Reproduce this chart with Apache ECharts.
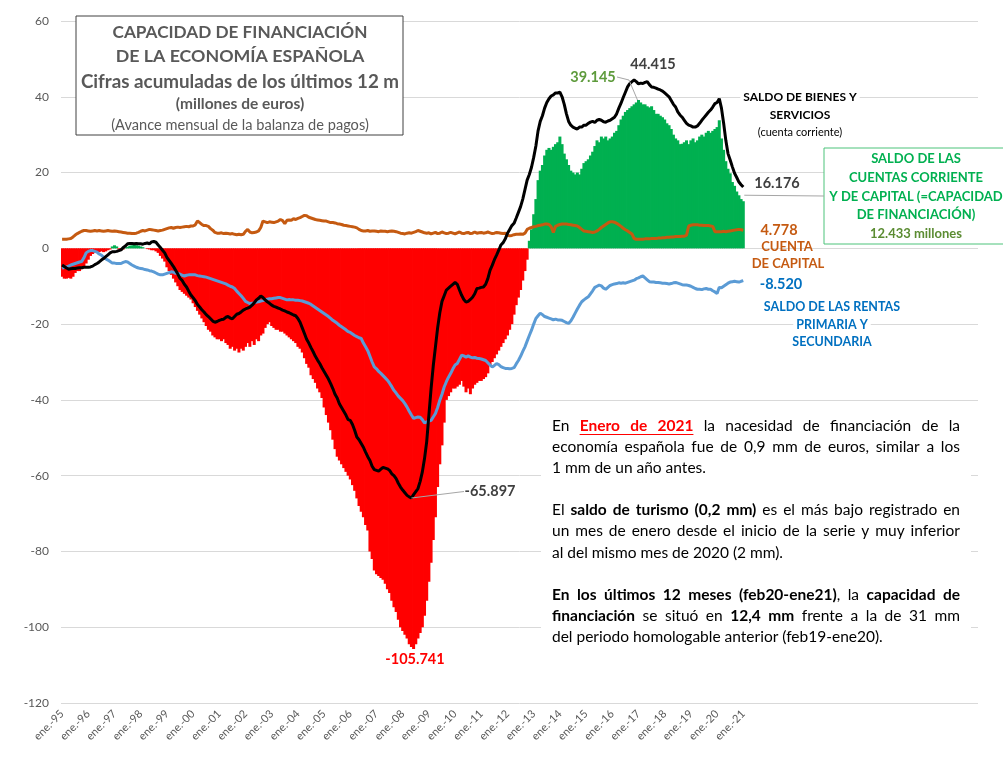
<!DOCTYPE html>
<html>
<head>
<meta charset="utf-8">
<script src="https://cdn.jsdelivr.net/npm/echarts@6/dist/echarts.min.js"></script>
<style>
  html, body { margin: 0; padding: 0; background: #fff; }
  #chart { width: 1003px; height: 770px; }
</style>
</head>
<body>
<div id="chart"></div>
<script>
const FONT = 'Lato, "Noto Sans", sans-serif';

const meses = ['ene.', 'feb.', 'mar.', 'abr.', 'may.', 'jun.', 'jul.', 'ago.', 'sep.', 'oct.', 'nov.', 'dic.'];
const tickLabels = ['ene.-95', 'ene.-96', 'ene.-97', 'ene.-98', 'ene.-99', 'ene.-00', 'ene.-01', 'ene.-02', 'ene.-03',
  'ene.-04', 'ene.-05', 'ene.-06', 'ene.-07', 'ene.-08', 'ene.-09', 'ene.-10', 'ene.-11', 'ene.-12', 'ene.-13',
  'ene.-14', 'ene.-15', 'ene.-16', 'ene.-17', 'ene.-18', 'ene.-19', 'ene.-20', 'ene.-21'];

// miles de millones de euros, acumulado 12 meses (ene-95 ... ene-21)
const capFinanciacion = [
  -7.5, -8, -8, -7.8, -8, -7.5, -6.5, -6, -6, -5.5, -5, -4,
  -3, -2, -1.5, -1.2, -1, -1, -0.8, -1, -0.8, -0.5, -0.3, 0.5,
  0.8, 0.5, -0.3, -0.5, -0.3, 0.2, 0.4, 0.7, 0.8, 0.9, 0.8, 0.7,
  0.5, 0.3, 0, -0.2, -0.3, -0.5, -0.5, -0.8, -1.2, -2, -2.7, -3.5,
  -5, -6, -7, -8, -9, -10, -11, -11.5, -12, -12.5, -13, -13.5,
  -14.5, -15.5, -16.5, -17.5, -18.5, -19.5, -20.5, -21.5, -22, -23, -23.5, -24,
  -24, -24.5, -24, -25, -25.5, -26.5, -26, -27, -26.5, -27.5, -26.5, -27,
  -26, -25, -26, -24.5, -25.5, -24, -24.5, -23, -22.5, -21, -20, -19.5,
  -20.5, -21, -21.5, -21.5, -22, -22, -22.5, -23, -23.5, -24, -24.5, -25,
  -26, -26.5, -27.5, -29, -30.5, -31.5, -33.5, -34.5, -35.5, -37, -38, -39.5,
  -42, -44, -46, -48, -50.5, -53, -55, -56, -57, -58, -59, -60,
  -61, -62.5, -64, -66, -68, -69.5, -71, -73, -74.5, -80, -82, -85,
  -86, -86.5, -87, -87.5, -88.5, -90, -91, -93, -94.7, -96, -98, -100,
  -101, -102, -103, -104.5, -105.2, -105.741, -104.5, -103, -101.5, -100, -97, -93,
  -88, -83, -77, -71, -63, -57, -52, -46, -40, -39, -38, -37,
  -37, -36.5, -36, -35, -36.5, -38, -37, -38.5, -37, -36, -35.5, -35,
  -35, -34.5, -34, -33, -31, -30, -29, -28, -27, -26, -25, -24,
  -23, -21.5, -20, -17.5, -15, -13, -11, -8.5, -6, -3, 2, 5,
  9, 13, 18, 20.5, 22, 24.5, 26, 26.5, 26, 26.8, 27.5, 28,
  29.5, 27.5, 25, 23.5, 22, 20.5, 20, 19.5, 20, 19.5, 21, 22.5,
  23, 23.5, 24.5, 25.5, 27, 28.5, 28, 29.5, 29, 29.5, 28.5, 29,
  29.5, 30.5, 31, 32.5, 34, 35, 36, 36.5, 37, 37.5, 38, 38.5,
  39.145, 38.5, 38, 38, 37.5, 37.2, 37.5, 36.5, 35.5, 35.5, 35, 34.6,
  34, 33, 32.5, 31.5, 30, 29, 28.5, 27.5, 27.6, 28, 28.5, 27.5,
  28.5, 29, 28, 28.5, 29.5, 30, 29.5, 30.5, 31, 30.5, 31, 31.5,
  32, 33.8, 29, 26, 23, 21, 19.8, 17.5, 16.5, 15, 14, 13,
  12.433
];

const saldoBienesServicios = [
  -4.4, -4.8, -5.2, -5.5, -5.4, -5.3, -5.3, -5.2, -5.1, -5.1, -5, -5,
  -5, -4.9, -4.7, -4.3, -4, -3.6, -3.1, -2.7, -2.2, -1.7, -1.2, -0.9,
  -0.9, -0.8, -0.6, -0.4, 0.2, 0.6, 1.2, 1.3, 1.3, 1.2, 1.3, 1.2,
  1.2, 1.1, 1.3, 1.4, 1.2, 1.7, 1.8, 1.6, 0.9, 0.2, -0.5, -1.2,
  -2.4, -3.2, -4, -4.8, -5.8, -6.8, -7.9, -8.5, -9.5, -10.2, -11.3, -12.3,
  -13, -13.8, -14.8, -15.5, -16.2, -16.8, -17.5, -18, -18.6, -19.2, -19.5, -19.3,
  -19, -18.8, -18.7, -18.2, -18, -18.4, -18.6, -18, -17.4, -17.2, -16.8, -16.3,
  -16, -15.8, -15.5, -15, -14.4, -13.6, -13.2, -12.6, -13, -13.6, -14.1, -14.5,
  -15, -15.3, -15.5, -15.8, -16, -16.3, -16.5, -16.8, -17, -17.3, -17.6, -17.8,
  -18.5, -19.5, -21, -22.5, -24, -25, -26.2, -27.3, -28.5, -29.5, -30.4, -31.5,
  -32.5, -33.5, -34.5, -35.7, -37, -38.5, -39.5, -41, -42, -43, -44, -45.2,
  -45.4, -46.5, -48, -49.8, -50.5, -51.5, -52.5, -53.8, -55, -56, -57.5, -58.4,
  -58.6, -58.8, -58.3, -57.8, -58, -58.2, -58.6, -59.5, -60, -60.8, -62, -63,
  -63.8, -64.5, -65.2, -65.6, -65.897, -65, -64.2, -63.4, -61.5, -59, -55.5, -51,
  -44, -37, -31, -26, -21, -17, -14, -12.5, -11, -10.5, -10, -9.5,
  -9, -9.5, -11, -12.4, -13.5, -14.2, -14, -13.5, -12.9, -12, -10.6, -10.5,
  -10.3, -10.2, -9.5, -8, -5.8, -4.5, -3, -1.8, -0.5, 0.9, 1.5, 2.5,
  4, 5, 6, 6.6, 8, 9.5, 11, 13, 15.5, 18, 19.5, 21.4,
  24, 27, 31, 33.5, 35, 37, 38.5, 39.5, 40.2, 40.5, 41, 41,
  41.2, 40, 38, 35.5, 33.5, 32.5, 32, 31.7, 31.5, 32, 32, 32.5,
  32.5, 33, 33.3, 33.5, 33.2, 33.8, 34, 33.8, 33.4, 33.3, 33.6, 33.8,
  34.2, 34.6, 35.5, 37, 38.3, 39.8, 41.2, 42.6, 43.5, 44, 44.415, 44,
  43.4, 43.6, 43.5, 43.8, 44, 43.2, 42.6, 42.5, 42.3, 42, 41.8, 41.5,
  41, 40.5, 40, 39, 38, 37.3, 36, 35.2, 34.6, 33.8, 33, 32.5,
  32.3, 32, 32, 32.3, 33, 33.8, 34.5, 35.2, 35.9, 36.5, 37.3, 38.2,
  38.5, 39.5, 37, 33, 28.5, 25, 23.3, 21.5, 19.8, 18.7, 17.5, 16.8,
  16.176
];

const cuentaCapital = [
  2.4, 2.4, 2.4, 2.5, 2.6, 3, 3.5, 3.9, 4.2, 4.5, 4.7, 4.7,
  4.6, 4.5, 4.6, 4.7, 4.6, 4.7, 4.6, 4.5, 4.6, 4.7, 4.6, 4.5,
  4.6, 4.5, 4.4, 4.3, 4.2, 4.1, 4, 4, 3.9, 3.9, 4, 4.2,
  4.5, 4.7, 4.6, 4.8, 5, 4.9, 4.8, 4.7, 4.6, 4.7, 4.8, 5,
  5.2, 5.4, 5.5, 5.3, 5.5, 5.6, 5.5, 5.6, 5.7, 5.8, 5.7, 5.9,
  5.9, 6.2, 7.2, 6.8, 6.3, 6, 6, 5.8, 5.2, 4.8, 4.2, 4,
  4, 4.1, 3.9, 4, 3.9, 3.8, 3.9, 3.7, 3.6, 3.7, 3.6, 3.7,
  4.5, 5, 4.3, 4.1, 4.2, 4.3, 4.6, 5.5, 7.2, 7, 6.8, 7,
  6.9, 6.8, 7, 7.2, 7.6, 7.3, 6.5, 7.4, 7.5, 7.4, 7.8, 7.6,
  7.9, 8.1, 8.4, 8.7, 8.6, 8.2, 8, 7.8, 7.6, 7.5, 7.4, 7.3,
  7.2, 7.2, 7, 6.8, 6.8, 6.7, 6.5, 6.4, 6.3, 6.1, 6, 5.9,
  5.8, 5.7, 5.6, 5.4, 5, 4.7, 4.6, 4.6, 4.7, 4.5, 4.6, 4.6,
  4.5, 4.4, 4.6, 4.5, 4.5, 4.4, 4.5, 4.6, 4.5, 4.4, 4.2, 4,
  3.9, 3.8, 4, 4.1, 4, 4.2, 4.4, 4.7, 4.5, 4.3, 4.1, 4,
  4.1, 3.8, 4, 4.2, 3.9, 4, 4.3, 4.1, 3.9, 4, 4.2, 4,
  3.8, 4.1, 4.3, 4, 3.9, 4.1, 4.2, 3.9, 4, 4.3, 4, 4.1,
  4.2, 4, 4.1, 4.3, 4.1, 3.9, 4, 4.2, 4.1, 4, 3.9, 4,
  3.5, 3.3, 3.4, 3.6, 3.7, 3.7, 3.8, 3.7, 4, 5, 5.3, 5.5,
  5.7, 5.8, 6, 6.1, 6.2, 6.4, 6.4, 6.3, 5.7, 4.2, 5.8, 6.1,
  6.3, 6.4, 6.4, 6.4, 6.3, 6.2, 6.1, 6, 5.9, 5.5, 5, 4.6,
  4.5, 4.4, 4.3, 4.2, 4.3, 4.6, 5, 5.5, 5.9, 6.3, 6.7, 7,
  7, 6.9, 6.6, 6.2, 5.8, 5.3, 4.9, 4.6, 4.2, 3.8, 2.6, 2.4,
  2.4, 2.4, 2.4, 2.5, 2.5, 2.5, 2.6, 2.6, 2.6, 2.7, 2.7, 2.8,
  2.8, 2.9, 2.9, 3, 3, 3.1, 3.1, 3.1, 3.2, 3.2, 3.5, 5.9,
  6.1, 6.2, 6.2, 6.2, 6.1, 6.1, 6, 6, 6, 5.9, 5.8, 4.4,
  4.4, 4.4, 4.4, 4.5, 4.4, 4.5, 4.6, 4.7, 4.8, 4.9, 5, 4.9,
  4.778
];

const saldoRentas = [
  -5.3, -5, -4.9, -4.7, -4.4, -4.2, -4, -3.8, -3.6, -3.5, -2.5, -1.2,
  -0.8, -0.6, -0.6, -0.8, -1, -1.5, -1.8, -2.3, -2.8, -3.1, -3.5, -3.9,
  -3.9, -4, -4, -4, -3.7, -3.5, -3.6, -4, -4.4, -4.7, -5, -5.2,
  -5.3, -5.4, -5.6, -5.7, -5.9, -6, -6.2, -6.5, -6.8, -7, -7, -6.8,
  -6.6, -6.4, -6.2, -6.3, -6.6, -6.6, -6.8, -7.1, -7.3, -7.1, -7, -7,
  -7, -7, -7.2, -7.3, -7.4, -7.5, -7.6, -7.8, -8, -8.2, -8.4, -8.6,
  -8.8, -9, -9.2, -9.4, -9.7, -10, -10.2, -10.6, -11.3, -11.9, -12.5, -13.2,
  -14, -14.3, -14.6, -14.5, -14.4, -14.2, -14.1, -13.9, -13.8, -13.6, -13.4, -13.3,
  -13.3, -13.2, -13.1, -13, -13, -13.2, -13.4, -13.6, -13.5, -13.6, -13.6, -13.7,
  -13.7, -13.8, -13.9, -14.1, -14.3, -14.5, -14.8, -15.2, -15.6, -16, -16.4, -16.8,
  -17.2, -17.6, -18, -18.5, -19, -19.4, -19.8, -20.3, -20.7, -21.1, -21.5, -22,
  -22.2, -22.6, -23, -23.3, -23.6, -23.8, -25, -26, -27, -28.5, -30, -31.3,
  -31.8, -32.5, -33, -33.6, -34.2, -34.8, -35.6, -36.5, -37.5, -38.2, -39, -39.6,
  -40.2, -41, -41.9, -43, -44, -44.9, -44.7, -44.5, -44.6, -45.2, -46.1, -45.8,
  -45.6, -45.4, -44.5, -43.6, -42, -40.1, -38.5, -36.6, -35.2, -34, -33, -31.8,
  -30.8, -30.4, -29.3, -28.2, -28.4, -28.7, -28.4, -28.7, -28.9, -28.8, -29, -29.1,
  -29.2, -29.4, -29.6, -30.2, -30.8, -31.3, -30.9, -30.4, -30.7, -31.2, -31.5, -31.7,
  -31.7, -31.8, -31.7, -31.5, -30.5, -29.6, -28.5, -27.2, -26, -24.5, -23, -21.6,
  -20, -18.5, -17.8, -17.1, -17.5, -18, -18.2, -18.4, -18.6, -18.9, -18.7, -18.9,
  -18.9, -19, -19.3, -19.6, -19.8, -19.2, -18.2, -17.1, -16, -15, -14.1, -13.6,
  -13.2, -12.8, -12, -11.2, -10.3, -10, -9.7, -9.9, -10.5, -10.8, -10.3, -9.8,
  -9.6, -9.4, -9.3, -9.1, -9.2, -9.1, -9.2, -9, -8.8, -8.6, -8.4, -8,
  -7.8, -7.5, -7.3, -7.8, -8.3, -8.8, -8.9, -8.9, -9, -9, -9.1, -9.2,
  -9.2, -9.3, -9.4, -9.3, -9.1, -9, -9.2, -9.4, -9.6, -9.7, -9.7, -9.8,
  -10, -10.3, -10.6, -10.8, -10.8, -10.9, -10.7, -10.6, -10.8, -10.8, -11.2, -11.5,
  -11.9, -10.3, -10.4, -10, -9.6, -9.2, -8.9, -8.8, -8.7, -8.8, -8.9, -8.7,
  -8.52
];

// eje mensual: ene-95 ... dic-29 (solo se rotulan los eneros con datos)
const categorias = [];
for (let a = 0; a < 35; a++) {
  for (let m = 0; m < 12; m++) {
    const yy = String((95 + a) % 100).padStart(2, '0');
    categorias.push(m === 0 && a < tickLabels.length ? tickLabels[a] : meses[m] + '-' + yy);
  }
}
const ultimo = capFinanciacion.length - 1;
const fmt = v => v.toFixed(3);

const chart = echarts.init(document.getElementById('chart'));

const option = {
  animation: false,
  backgroundColor: '#fff',
  textStyle: { fontFamily: FONT },
  grid: { left: 61, right: 25, top: 21, bottom: 67 },
  xAxis: {
    type: 'category',
    data: categorias,
    boundaryGap: true,
    axisLine: { show: false },
    axisTick: { show: false },
    splitLine: { show: false },
    axisLabel: {
      interval: (i) => i % 12 === 0 && i <= ultimo,
      rotate: 45,
      margin: 9,
      color: '#595959',
      fontSize: 11,
      fontFamily: FONT
    }
  },
  yAxis: {
    type: 'value',
    min: -120,
    max: 60,
    interval: 20,
    axisLine: { show: false },
    axisTick: { show: false },
    axisLabel: { color: '#595959', fontSize: 12, margin: 12, fontFamily: FONT },
    splitLine: { lineStyle: { color: '#d9d9d9', width: 1 } }
  },
  series: [
    {
      name: 'Capacidad de financiación',
      type: 'bar',
      data: capFinanciacion,
      barWidth: 3,
      itemStyle: { color: (p) => (p.value < 0 ? '#FF0000' : '#00B050') },
      silent: true
    },
    {
      name: 'Cuenta de capital',
      type: 'line',
      data: cuentaCapital,
      showSymbol: false,
      lineStyle: { color: '#C55A11', width: 3 },
      silent: true
    },
    {
      name: 'Rentas primaria y secundaria',
      type: 'line',
      data: saldoRentas,
      showSymbol: false,
      lineStyle: { color: '#5B9BD5', width: 3 },
      silent: true
    },
    {
      name: 'Bienes y servicios',
      type: 'line',
      data: saldoBienesServicios,
      showSymbol: false,
      lineStyle: { color: '#000000', width: 3 },
      silent: true
    }
  ]
};

chart.setOption(option);

// ---- anotaciones ----
const g = [];
function txt(x, y, text, size, color, bold, align, bg) {
  const al = align || 'center';
  g.push({
    type: 'text', x: x, y: y, z: 100,
    style: {
      text: text, fontSize: size, fontFamily: FONT, fontWeight: bold ? 'bold' : 'normal', fill: color,
      align: al, textAlign: al, verticalAlign: 'middle', textVerticalAlign: 'middle',
      backgroundColor: bg || 'transparent', padding: bg ? [1, 3] : 0
    }
  });
}
function linea(points, color) {
  g.push({ type: 'polyline', z: 99, shape: { points: points }, style: { stroke: color || '#a6a6a6', lineWidth: 1, fill: null } });
}
function caja(x, y, w, h, stroke) {
  g.push({ type: 'rect', z: 98, shape: { x: x, y: y, width: w, height: h },
    style: { fill: '#fff', stroke: stroke || 'none', lineWidth: stroke ? 1 : 0 } });
}

// cuadro del titulo
caja(76, 16, 327, 119, '#404040');
txt(240, 32, 'CAPACIDAD DE FINANCIACIÓN', 17.2, '#595959', true);
txt(240, 56, 'DE LA ECONOMÍA ESPAÑOLA', 17.8, '#595959', true);
txt(240, 82, 'Cifras acumuladas de los últimos 12 m', 18.8, '#595959', true);
txt(240, 103.5, '(millones de euros)', 15.5, '#595959', true);
txt(240, 125, '(Avance mensual de la balanza de pagos)', 14.6, '#595959', false);

// valores destacados
const iMaxCF = capFinanciacion.indexOf(Math.max(...capFinanciacion));
const iMinCF = capFinanciacion.indexOf(Math.min(...capFinanciacion));
const iMaxBS = saldoBienesServicios.indexOf(Math.max(...saldoBienesServicios));
const iMinBS = saldoBienesServicios.indexOf(Math.min(...saldoBienesServicios));
const px = (i, v) => chart.convertToPixel({ gridIndex: 0 }, [i, v]);

const pMaxCF = px(iMaxCF, capFinanciacion[iMaxCF]);
txt(593, 77, fmt(capFinanciacion[iMaxCF]), 14.5, '#5E9B3C', true);
linea([[617, 77], [629, 80], [pMaxCF[0] - 1, pMaxCF[1]]]);

txt(653, 64, fmt(saldoBienesServicios[iMaxBS]), 14.5, '#404040', true);

const pMinBS = px(iMinBS, saldoBienesServicios[iMinBS]);
linea([[pMinBS[0], pMinBS[1]], [464, 491.5]]);
txt(490, 491, fmt(saldoBienesServicios[iMinBS]), 14.5, '#404040', true);

txt(415, 659, fmt(capFinanciacion[iMinCF]), 14.5, '#FF0000', true);

// etiquetas a la derecha
txt(800, 97, 'SALDO DE BIENES Y', 12, '#000', true, 'center', '#fff');
txt(800, 115, 'SERVICIOS', 12, '#000', true, 'center', '#fff');
txt(800, 132, '(cuenta corriente)', 11, '#000', false, 'center', '#fff');
txt(777, 183, fmt(saldoBienesServicios[ultimo]), 14.5, '#404040', true);

const pUlt = px(ultimo, capFinanciacion[ultimo]);
linea([[pUlt[0] + 1, pUlt[1] - 6], [824, 196]]);
caja(824, 148, 190, 96, '#4CC37A');
txt(916, 159, 'SALDO DE LAS', 13, '#00B050', true);
txt(916, 178, 'CUENTAS CORRIENTE', 13, '#00B050', true);
txt(916, 197, 'Y DE CAPITAL (=CAPACIDAD', 13, '#00B050', true);
txt(916, 215, 'DE FINANCIACIÓN)', 13, '#00B050', true);
txt(916, 234, fmt(capFinanciacion[ultimo]) + ' millones', 13, '#5B8C32', true);

txt(779, 230, fmt(cuentaCapital[ultimo]), 14.5, '#C55A11', true);
txt(787, 247, 'CUENTA', 13, '#C55A11', true);
txt(788, 264, 'DE CAPITAL', 13, '#C55A11', true);

txt(781, 284, fmt(saldoRentas[ultimo]), 14.5, '#0070C0', true);
txt(832, 307, 'SALDO DE LAS RENTAS', 12.5, '#0070C0', true, 'center', '#fff');
txt(832, 325, 'PRIMARIA Y', 12.5, '#0070C0', true, 'center', '#fff');
txt(832, 342, 'SECUNDARIA', 12.5, '#0070C0', true, 'center', '#fff');

// texto justificado
const PX = 552, PW = 408, PS = 15.5;
const ctx = document.createElement('canvas').getContext('2d');
const ancho = (t, b) => { ctx.font = (b ? 'bold ' : '') + PS + 'px ' + FONT; return ctx.measureText(t).width; };

const parrafo = [
  { y: 426, j: true, s: [{ t: 'En ' }, { t: 'Enero de 2021', b: 1, c: '#FF0000', u: 1 }, { t: ' la nacesidad de financiación de la' }] },
  { y: 447, j: true, s: [{ t: 'economía española fue de 0,9 mm de euros, similar a los' }] },
  { y: 468, j: false, s: [{ t: '1 mm de un año antes.' }] },
  { y: 510, j: true, s: [{ t: 'El ' }, { t: 'saldo de turismo (0,2 mm)', b: 1 }, { t: ' es el más bajo registrado en' }] },
  { y: 531, j: true, s: [{ t: 'un mes de enero desde el inicio de la serie y muy inferior' }] },
  { y: 553, j: false, s: [{ t: 'al del mismo mes de 2020 (2 mm).' }] },
  { y: 595, j: true, s: [{ t: 'En los últimos 12 meses (feb20-ene21)', b: 1 }, { t: ', la ' }, { t: 'capacidad de', b: 1 }] },
  { y: 616, j: true, s: [{ t: 'financiación', b: 1 }, { t: ' se situó en ' }, { t: '12,4 mm', b: 1 }, { t: ' frente a la de 31 mm' }] },
  { y: 637, j: false, s: [{ t: 'del periodo homologable anterior (feb19-ene20).' }] }
];

caja(541, 408, 430, 244);
parrafo.forEach((ln) => {
  const tokens = [];
  let cur = null;
  ln.s.forEach((seg) => {
    seg.t.split(' ').forEach((p, i) => {
      if (i > 0) cur = null;
      if (p === '') return;
      if (!cur) { cur = []; tokens.push(cur); }
      cur.push({ t: p, b: seg.b, c: seg.c, u: seg.u, w: ancho(p, seg.b) });
    });
  });
  const total = tokens.reduce((s, tk) => s + tk.reduce((a, p) => a + p.w, 0), 0);
  const gap = ln.j ? (PW - total) / (tokens.length - 1) : ancho(' ', false);
  let x = PX, u0 = null, u1 = null;
  tokens.forEach((tk) => {
    tk.forEach((p) => {
      txt(x, ln.y, p.t, PS, p.c || '#000', p.b, 'left');
      if (p.u) { if (u0 === null) u0 = x; u1 = x + p.w; }
      x += p.w;
    });
    x += gap;
  });
  if (u0 !== null) linea([[u0, ln.y + 8.5], [u1, ln.y + 8.5]], '#FF0000');
});

chart.setOption({ graphic: { elements: g } });

window.addEventListener('resize', () => chart.resize());
</script>
</body>
</html>
